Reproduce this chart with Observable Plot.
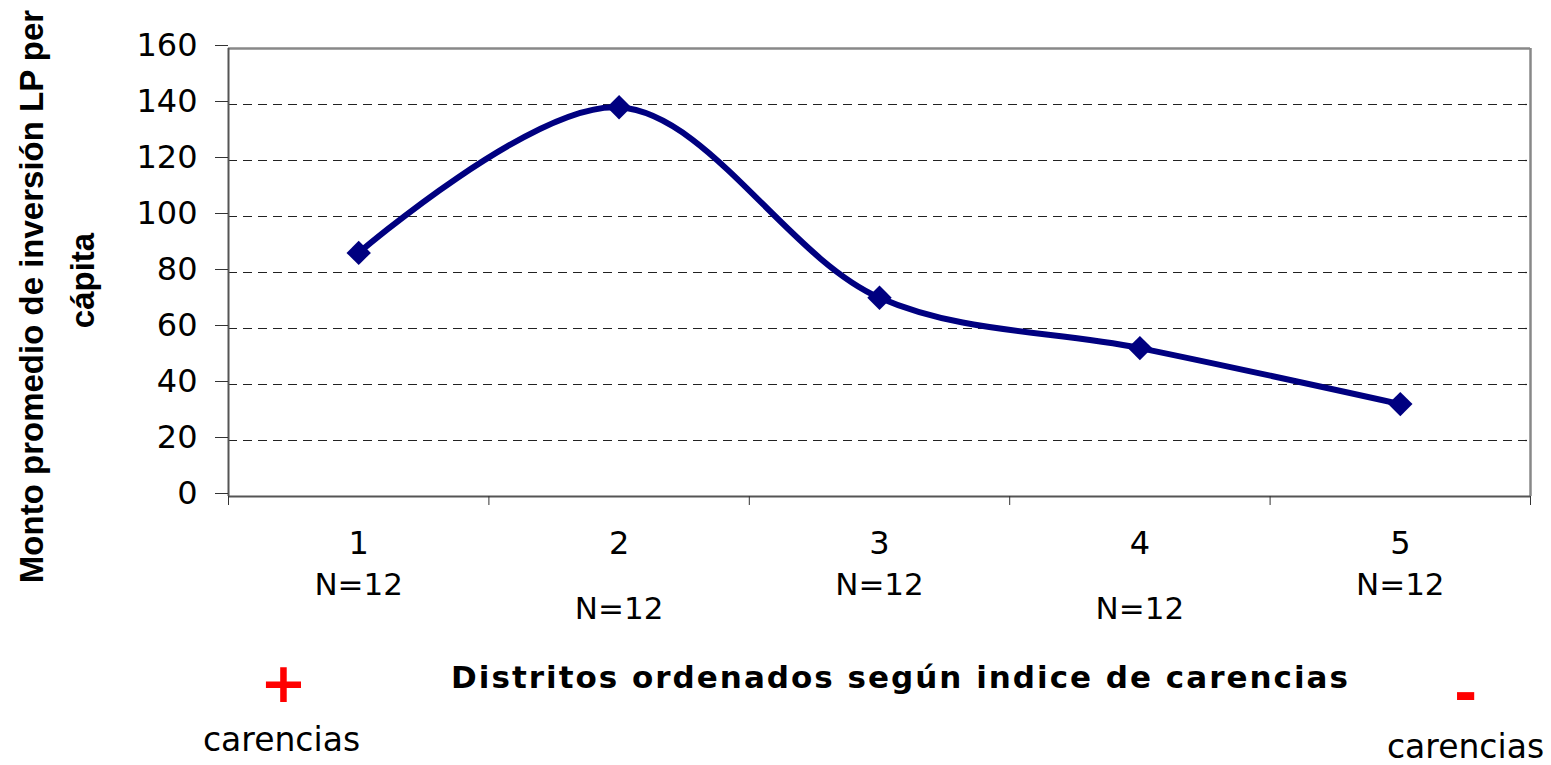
<!DOCTYPE html>
<html><head><meta charset="utf-8">
<script src="https://cdn.jsdelivr.net/npm/d3@7"></script>
<script src="https://cdn.jsdelivr.net/npm/@observablehq/plot@0.6"></script>
<style>body{margin:0;background:#fff;overflow:hidden}</style>
</head><body><div id="chart"></div>
<script>
// ---- data ----
const categories = [1, 2, 3, 4, 5];
const values = [87, 139, 71, 53, 33];
const nLabels = ["N=12", "N=12", "N=12", "N=12", "N=12"];
const yTicks = [0, 20, 40, 60, 80, 100, 120, 140, 160];
const gridTicks = [20, 40, 60, 80, 100, 120, 140];
const yTitleLines = ["Monto promedio de inversión LP per", "cápita"];
const xTitle = "Distritos ordenados según indice de carencias";
const plusLabel = "+";
const minusLabel = "-";
const sideLabel = "carencias";

const data = categories.map((c, i) => ({cat: c, value: values[i], n: nLabels[i], i}));
const bounds = categories.map(c => c - 0.5).concat([categories[categories.length - 1] + 0.5]);
const xMin = bounds[0], xMax = bounds[bounds.length - 1];
const yMax = yTicks[yTicks.length - 1];

const navy = "#000080";
const regular = "DejaVu Sans";
const boldArial = "Liberation Sans";

const chart = Plot.plot({
  width: 1551,
  height: 765,
  marginLeft: 228,
  marginRight: 21,
  marginTop: 48,
  marginBottom: 269,
  style: {fontFamily: regular, fontSize: "32px", background: "#fff", overflow: "visible"},
  x: {type: "linear", domain: [xMin, xMax], axis: null},
  y: {domain: [0, yMax], axis: null},
  marks: [
    // dashed gridlines
    Plot.ruleY(gridTicks, {stroke: "#222", strokeWidth: 1.2, strokeDasharray: "9,6"}),
    // top & right border
    Plot.ruleY([yMax], {stroke: "#888", strokeWidth: 2.5}),
    Plot.ruleX([xMax], {y1: 0, y2: yMax, stroke: "#888", strokeWidth: 2.5}),
    // left & bottom axis lines
    Plot.ruleX([xMin], {y1: 0, y2: yMax, stroke: "#555", strokeWidth: 2}),
    Plot.ruleY([0], {stroke: "#555", strokeWidth: 2}),
    // y axis
    Plot.axisY(yTicks, {label: null, tickSize: 13, tickPadding: 18, fontSize: 32, fontFamily: regular, dy: -3, stroke: "#333"}),
    // x axis ticks between categories
    Plot.axisX(bounds, {label: null, tickSize: 9, tickFormat: () => "", stroke: "#333"}),
    // category labels
    Plot.text(data, {x: "cat", text: d => String(d.cat), frameAnchor: "bottom", lineAnchor: "bottom", dy: 57, fontSize: 32}),
    Plot.text(data.filter(d => d.i % 2 === 0), {x: "cat", text: "n", frameAnchor: "bottom", lineAnchor: "bottom", dy: 98, fontSize: 31}),
    Plot.text(data.filter(d => d.i % 2 === 1), {x: "cat", text: "n", frameAnchor: "bottom", lineAnchor: "bottom", dy: 122, fontSize: 31}),
    // series
    Plot.line(data, {x: "cat", y: "value", curve: "catmull-rom", stroke: navy, strokeWidth: 6}),
    Plot.dot(data, {x: "cat", y: "value", symbol: "diamond2", r: 11, fill: navy, stroke: "none"}),
    // y title
    Plot.text([yTitleLines[0]], {frameAnchor: "left", rotate: -90, dx: -196, dy: 24, fontFamily: boldArial, fontWeight: "bold", fontSize: 33, textAnchor: "middle"}),
    Plot.text([yTitleLines[1]], {frameAnchor: "left", rotate: -90, dx: -145, dy: 8, fontFamily: boldArial, fontWeight: "bold", fontSize: 33, textAnchor: "middle"}),
    // x title
    Plot.text([xTitle], {frameAnchor: "bottom", lineAnchor: "bottom", dx: 21, dy: 191, fontFamily: regular, fontWeight: "bold", fontSize: 31}),
    // + / - carencias
    Plot.text([plusLabel], {frameAnchor: "bottom-left", textAnchor: "middle", lineAnchor: "bottom", dx: 55, dy: 205, fill: "#ff0000", fontFamily: regular, fontWeight: "bold", fontSize: 56}),
    Plot.text([sideLabel], {frameAnchor: "bottom-left", textAnchor: "middle", lineAnchor: "bottom", dx: 53, dy: 254, fontSize: 33}),
    Plot.text([minusLabel], {frameAnchor: "bottom-right", textAnchor: "middle", lineAnchor: "bottom", dx: -65, dy: 215, fill: "#ff0000", fontFamily: regular, fontWeight: "bold", fontSize: 56}),
    Plot.text([sideLabel], {frameAnchor: "bottom-right", textAnchor: "middle", lineAnchor: "bottom", dx: -65, dy: 261, fontSize: 33})
  ]
});
d3.select(chart).selectAll("text")
  .filter(function() { return this.textContent === xTitle; })
  .style("letter-spacing", "2px");
document.getElementById("chart").appendChild(chart);
</script>
</body></html>
